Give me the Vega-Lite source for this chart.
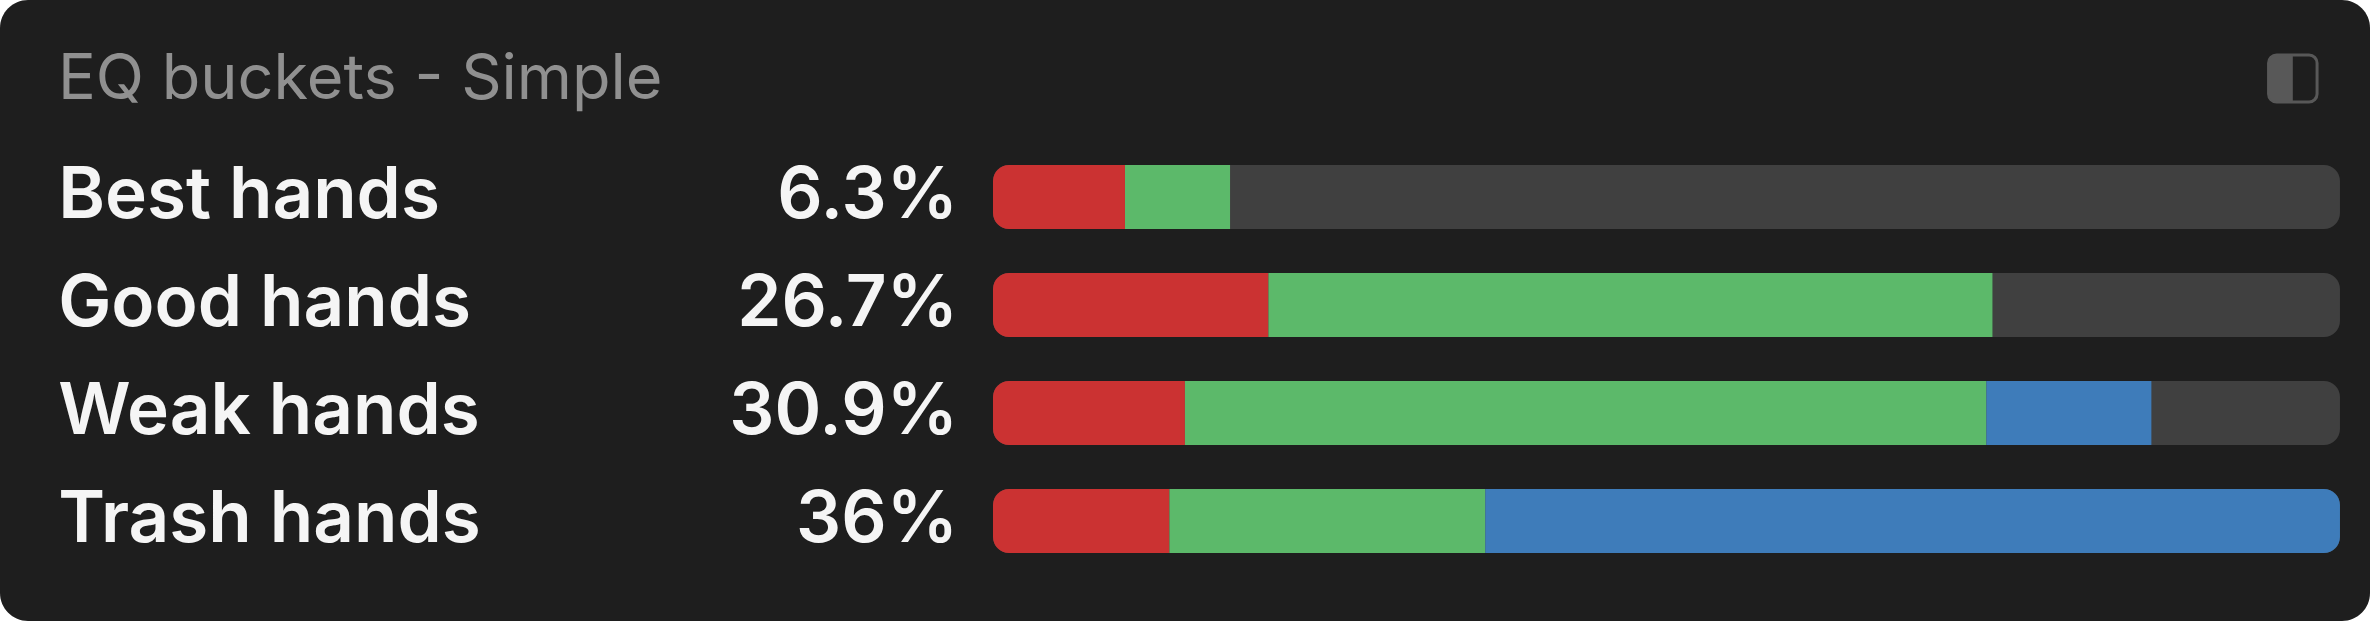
{
"$schema":"https://vega.github.io/schema/vega-lite/v6.json",
"width":2370,"height":621,
"autosize":{"type":"fit","contains":"padding"},
"padding":0,
"background":"#ffffff",
"config":{"view":{"fill":"#1e1e1e","stroke":null,"cornerRadius":28}},
"title":{"text":"EQ buckets - Simple","anchor":"start","frame":"group","dx":58,"offset":-112,"font":"Inter","fontSize":63,"fontWeight":400,"color":"#909090"},
"datasets":{
"rows":[
{"bucket":"Best hands","pct":"6.3%"},
{"bucket":"Good hands","pct":"26.7%"},
{"bucket":"Weak hands","pct":"30.9%"},
{"bucket":"Trash hands","pct":"36%"}],
"segments":[
{"bucket":"Best hands","segment":"red","start":0,"end":9.8},
{"bucket":"Best hands","segment":"green","start":9.8,"end":17.6},
{"bucket":"Good hands","segment":"red","start":0,"end":20.45},
{"bucket":"Good hands","segment":"green","start":20.45,"end":74.2},
{"bucket":"Weak hands","segment":"red","start":0,"end":14.25},
{"bucket":"Weak hands","segment":"green","start":14.25,"end":73.75},
{"bucket":"Weak hands","segment":"blue","start":73.75,"end":86},
{"bucket":"Trash hands","segment":"red","start":0,"end":13.1},
{"bucket":"Trash hands","segment":"green","start":13.1,"end":36.55},
{"bucket":"Trash hands","segment":"blue","start":36.55,"end":100}],
"icon":[{"x0":94.7,"x1":98.3,"xm":96.5,"y0":55,"y1":102}]
},
"encoding":{
"x":{"type":"quantitative","scale":{"domain":[-73.72,102.23],"nice":false,"zero":false},"axis":null}
},
"layer":[
{"encoding":{"y":{"field":"bucket","type":"nominal","axis":null,"scale":{"domain":["Best hands","Good hands","Weak hands","Trash hands"],"range":[143,575],"paddingInner":0.4074,"paddingOuter":0.2037}}},
"layer":[
{"data":{"name":"rows"},"mark":{"type":"rect","color":"#404040","cornerRadius":16},"encoding":{"x":{"datum":0,"type":"quantitative"},"x2":{"datum":100}}},
{"data":{"name":"segments"},"transform":[{"filter":"datum.segment==='red'"}],"mark":{"type":"rect","cornerRadiusTopLeft":16,"cornerRadiusBottomLeft":16},"encoding":{"x":{"field":"start","type":"quantitative"},"x2":{"field":"end"},"color":{"field":"segment","type":"nominal","legend":null,"scale":{"domain":["red","green","blue"],"range":["#cb3232","#5cb96a","#3e7cba"]}}}},
{"data":{"name":"segments"},"transform":[{"filter":"datum.segment!=='red' && datum.end<100"}],"mark":{"type":"rect"},"encoding":{"x":{"field":"start","type":"quantitative"},"x2":{"field":"end"},"color":{"field":"segment","type":"nominal","legend":null}}},
{"data":{"name":"segments"},"transform":[{"filter":"datum.end>=100"}],"mark":{"type":"rect","cornerRadiusTopRight":16,"cornerRadiusBottomRight":16},"encoding":{"x":{"field":"start","type":"quantitative"},"x2":{"field":"end"},"color":{"field":"segment","type":"nominal","legend":null}}},
{"data":{"name":"rows"},"mark":{"type":"text","align":"left","baseline":"middle","font":"Inter","fontSize":71,"fontWeight":600,"color":"#f5f5f5"},"encoding":{"x":{"datum":-69.4,"type":"quantitative"},"text":{"field":"bucket"}}},
{"data":{"name":"rows"},"mark":{"type":"text","align":"right","baseline":"middle","font":"Inter","fontSize":71,"fontWeight":600,"color":"#f5f5f5"},"encoding":{"x":{"datum":-2.6,"type":"quantitative"},"text":{"field":"pct"}}}
]},
{"data":{"name":"icon"},
"encoding":{"y":{"field":"y0","type":"quantitative","axis":null,"scale":{"domain":[621,0],"nice":false,"zero":false}},"y2":{"field":"y1"}},
"layer":[
{"mark":{"type":"rect","fill":"#1e1e1e","stroke":"#585858","strokeWidth":3,"cornerRadius":8},"encoding":{"x":{"field":"x0","type":"quantitative"},"x2":{"field":"x1"}}},
{"mark":{"type":"rect","fill":"#585858","cornerRadiusTopLeft":8,"cornerRadiusBottomLeft":8},"encoding":{"x":{"field":"x0","type":"quantitative"},"x2":{"field":"xm"}}}
]}
],
"resolve":{"scale":{"y":"independent"}}
}
